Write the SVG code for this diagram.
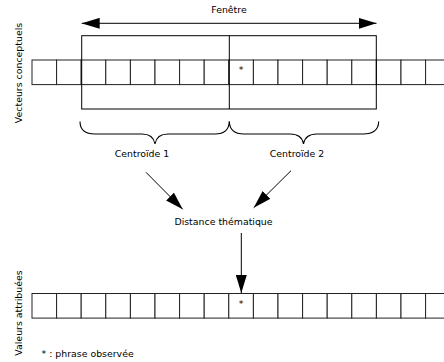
<svg xmlns="http://www.w3.org/2000/svg" width="444" height="362" viewBox="0 0 444 362">
<defs>
<style>
text{font-family:"DejaVu Sans","Liberation Sans",sans-serif;font-size:9.4px;fill:#000}
.c{fill:#fff;stroke:#222;stroke-width:1}
.ln{fill:none;stroke:#000;stroke-width:1}
.br{fill:none;stroke:#000;stroke-width:1.1}
</style>
<marker id="ah" markerWidth="18" markerHeight="11" refX="18" refY="5.5" orient="auto" markerUnits="userSpaceOnUse">
<path d="M0,0 L18,5.5 L0,11 Z" fill="#000"/>
</marker>
<g id="cell"><rect class="c" x="0" y="0" width="24.6" height="24.6"/></g>
</defs>
<rect width="444" height="362" fill="#fff"/>
<g id="row-top">
<use href="#cell" x="32" y="60"/><use href="#cell" x="56.6" y="60"/><use href="#cell" x="81.2" y="60"/><use href="#cell" x="105.8" y="60"/><use href="#cell" x="130.4" y="60"/><use href="#cell" x="155" y="60"/><use href="#cell" x="179.6" y="60"/><use href="#cell" x="204.2" y="60"/><use href="#cell" x="228.8" y="60"/><use href="#cell" x="253.4" y="60"/><use href="#cell" x="278" y="60"/><use href="#cell" x="302.6" y="60"/><use href="#cell" x="327.2" y="60"/><use href="#cell" x="351.8" y="60"/><use href="#cell" x="376.4" y="60"/><use href="#cell" x="401" y="60"/><use href="#cell" x="425.6" y="60"/>
<text x="241" y="73" text-anchor="middle" font-size="7">*</text>
</g>
<g id="window">
<rect class="ln" x="81.7" y="35.7" width="294.6" height="73.3"/>
<line class="ln" x1="229.3" y1="35.7" x2="229.3" y2="109"/>
</g>
<g id="label-fenetre"><text x="229" y="13" text-anchor="middle">Fenêtre</text></g>
<g id="label-vecteurs"><text transform="translate(22,73) rotate(-90)" text-anchor="middle">Vecteurs conceptuels</text></g>
<g id="brace1">
<path class="br" d="M80,121.5 C80,130 85,134 95,134 L142,134 C150,134 154,138 155,144 C156,138 160,134 168,134 L215,134 C224,134 229,130 229.3,121.5"/>
<text x="142" y="157" text-anchor="middle">Centroïde 1</text>
</g>
<g id="brace2">
<path class="br" d="M229.3,121.5 C229.6,130 234,134 244,134 L290,134 C298,134 302.5,138 303.5,144 C304.5,138 309,134 317,134 L363,134 C373,134 378.5,130 378.7,121.5"/>
<text x="297" y="157" text-anchor="middle">Centroïde 2</text>
</g>
<g id="distance"><text x="223.5" y="225" text-anchor="middle">Distance thématique</text></g>
<g id="row-bottom">
<use href="#cell" x="32" y="293.5"/><use href="#cell" x="56.6" y="293.5"/><use href="#cell" x="81.2" y="293.5"/><use href="#cell" x="105.8" y="293.5"/><use href="#cell" x="130.4" y="293.5"/><use href="#cell" x="155" y="293.5"/><use href="#cell" x="179.6" y="293.5"/><use href="#cell" x="204.2" y="293.5"/><use href="#cell" x="228.8" y="293.5"/><use href="#cell" x="253.4" y="293.5"/><use href="#cell" x="278" y="293.5"/><use href="#cell" x="302.6" y="293.5"/><use href="#cell" x="327.2" y="293.5"/><use href="#cell" x="351.8" y="293.5"/><use href="#cell" x="376.4" y="293.5"/><use href="#cell" x="401" y="293.5"/><use href="#cell" x="425.6" y="293.5"/>
<text x="241" y="306.5" text-anchor="middle" font-size="7">*</text>
</g>
<g id="label-valeurs"><text transform="translate(22,313) rotate(-90)" text-anchor="middle">Valeurs attribuées</text></g>
<g id="legend"><text x="41.5" y="357">* : phrase observée</text></g>
<g id="connectors">
<line class="ln" x1="229" y1="23.3" x2="376.5" y2="23.3" marker-end="url(#ah)"/>
<line class="ln" x1="229" y1="23.3" x2="81.7" y2="23.3" marker-end="url(#ah)"/>
<line class="ln" x1="146" y1="172.3" x2="182.7" y2="209.3" marker-end="url(#ah)"/>
<line class="ln" x1="291" y1="170.7" x2="253.7" y2="207.7" marker-end="url(#ah)"/>
<line class="ln" x1="241.3" y1="233" x2="241.3" y2="293" marker-end="url(#ah)"/>
</g>
</svg>
